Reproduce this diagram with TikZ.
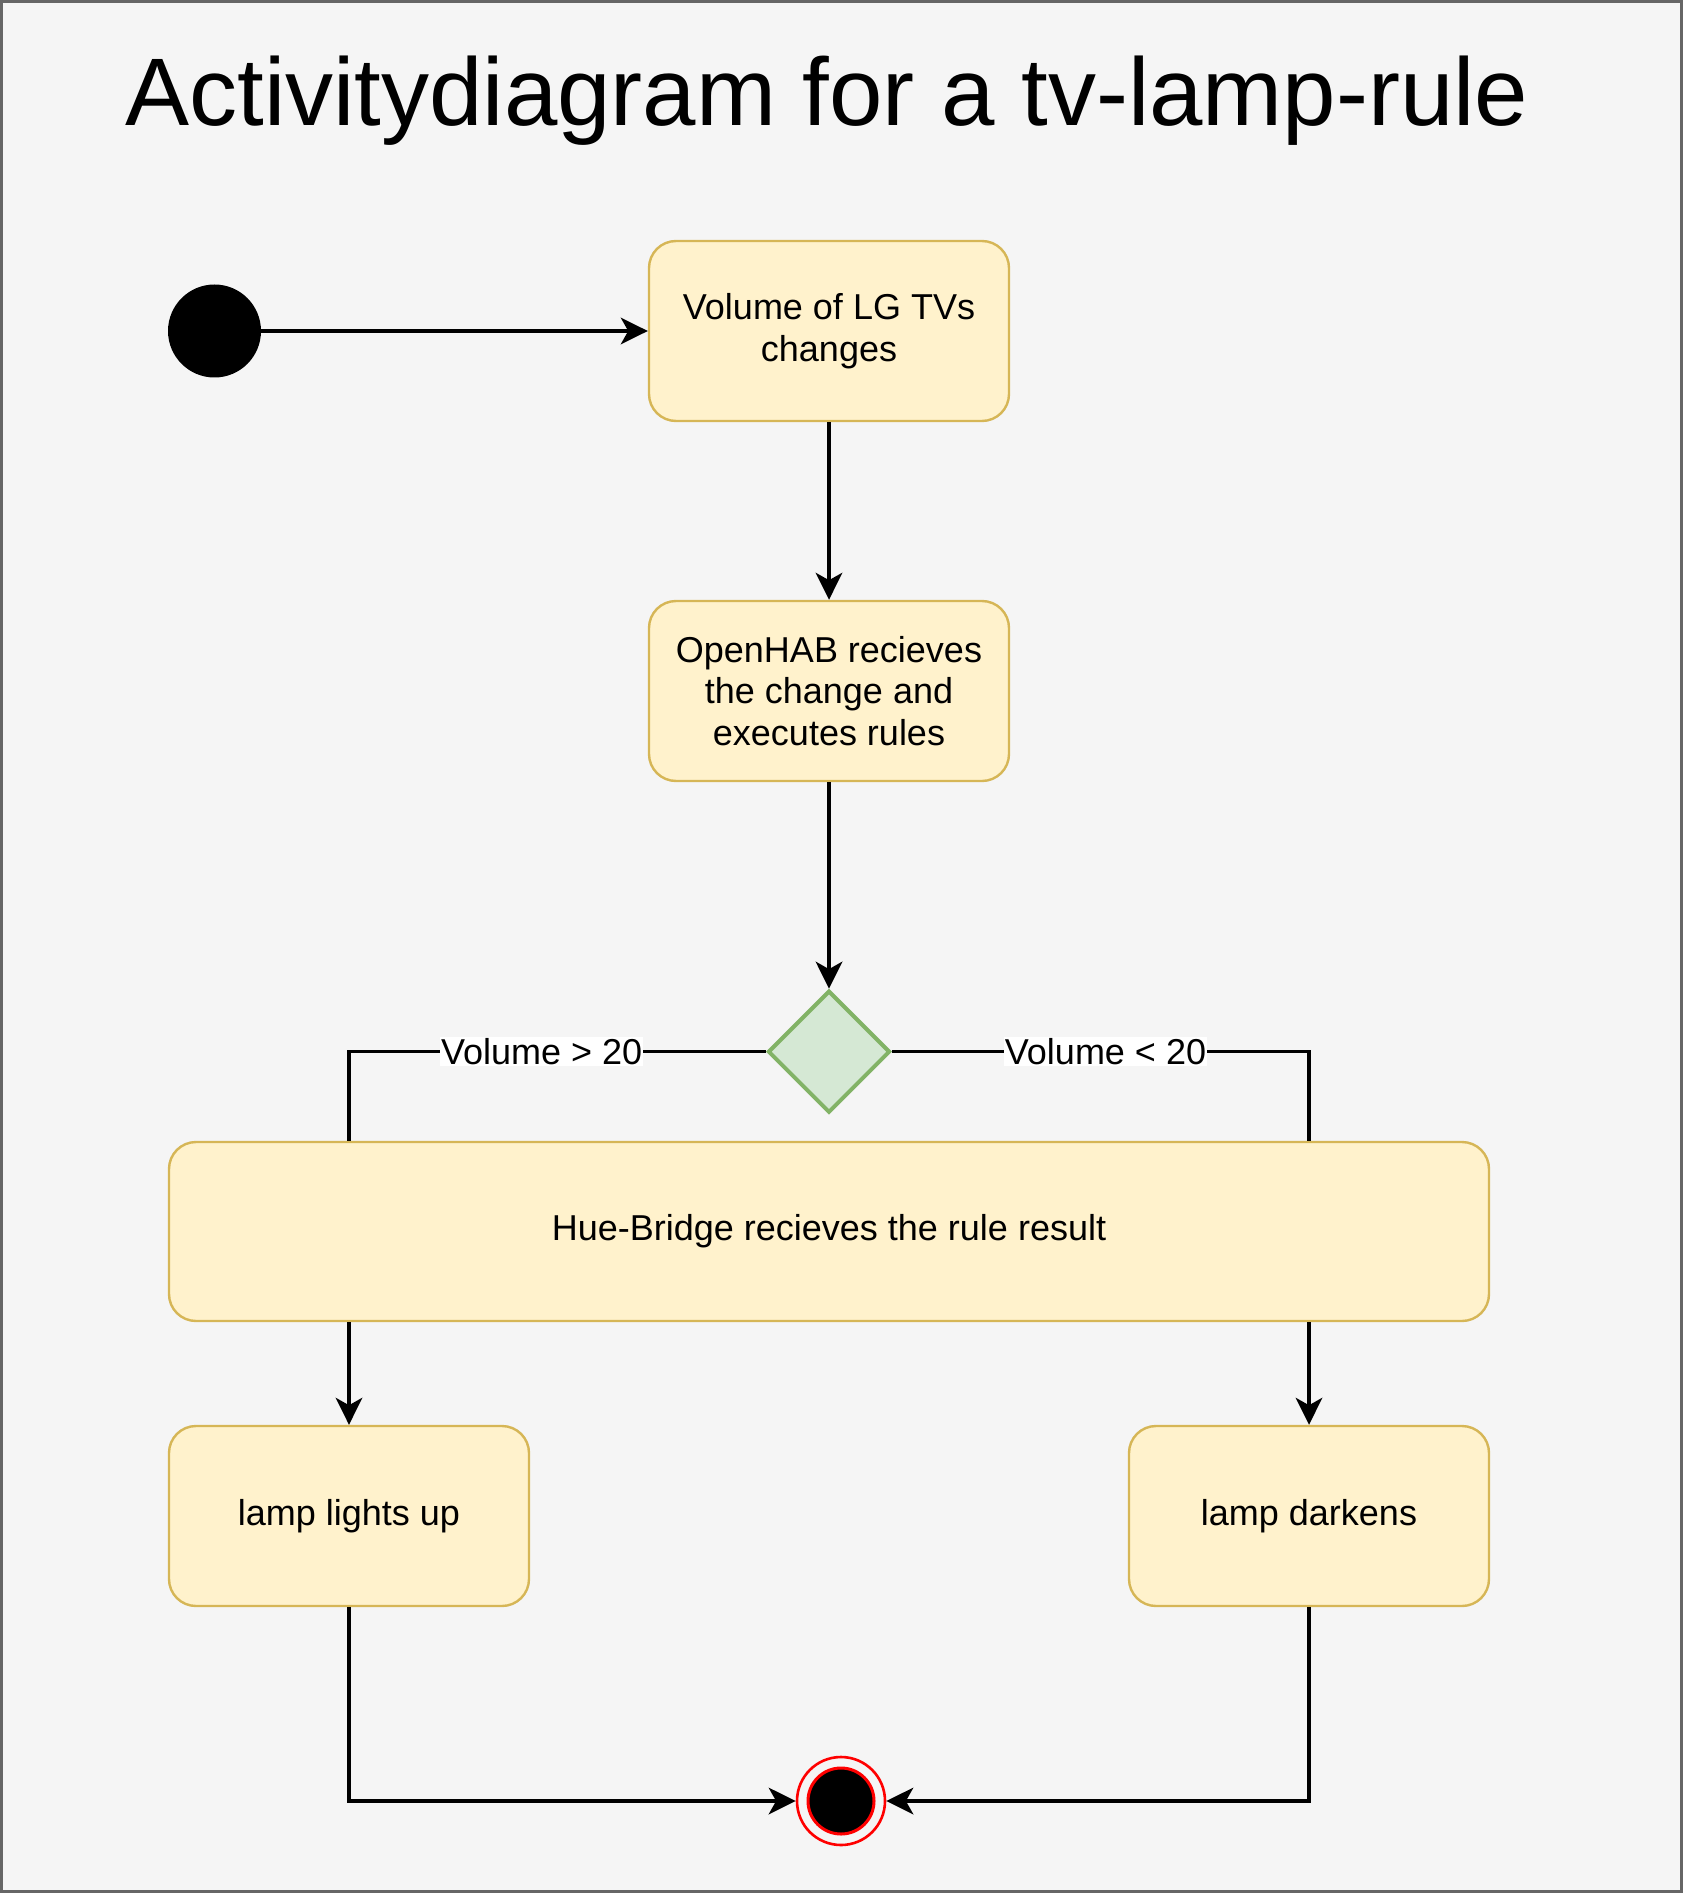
\documentclass[tikz,border=0pt]{standalone}
\usepackage{fontspec}
\setmainfont{Liberation Sans}
\usetikzlibrary{shapes.geometric,arrows.meta,calc}
\definecolor{bgc}{HTML}{F5F5F5}
\definecolor{framec}{HTML}{666666}
\definecolor{actfill}{HTML}{FFF2CC}
\definecolor{actdraw}{HTML}{D6B656}
\definecolor{decfill}{HTML}{D5E8D4}
\definecolor{decdraw}{HTML}{82B366}
\definecolor{endred}{HTML}{FF0000}
\begin{document}
\begin{tikzpicture}[x=0.5pt,y=-0.5pt,
  act/.style={draw=actdraw,fill=actfill,line width=1.2pt,rounded corners=13.5pt,
    minimum width=180pt,minimum height=90pt,align=center,inner sep=0pt,
    font=\fontsize{18}{20.8}\selectfont},
  dec/.style={diamond,draw=decdraw,fill=decfill,line width=2pt,
    minimum width=61pt,minimum height=61pt,inner sep=0pt},
  startnode/.style={circle,fill=black,minimum size=46.5pt,inner sep=0pt},
  endouter/.style={circle,draw=endred,fill=bgc,line width=1.3pt,minimum size=44pt,inner sep=0pt},
  endinner/.style={circle,draw=endred,fill=black,line width=1.5pt,minimum size=33pt,inner sep=0pt},
  conn/.style={line width=1.6pt},
  arr/.style={conn,-{Stealth[length=13.5pt,width=13.3pt,inset=3.7pt]}},
  lbl/.style={fill=white,inner sep=0.6pt,font=\fontsize{18}{22}\selectfont},
]
\path[use as bounding box] (0,0) rectangle (1683,1893);
\draw[fill=bgc,draw=framec,line width=1.5pt] (1.5,1.5) rectangle (1681.5,1891.5);

\node[anchor=base,font=\fontsize{48}{56}\selectfont] (title) at (827,126) {Activitydiagram for a tv-lamp-rule};

\node[startnode] (start) at (214.5,331) {};
\node[act] (b1) at (829,331) {Volume of LG TVs\\changes};
\node[act] (b2) at (829,691) {OpenHAB recieves\\the change and\\executes rules};
\node[dec] (dec) at (829,1051.7) {};
\node[act,minimum width=660pt,minimum height=89.5pt] (hue) at (829,1231.5) {Hue-Bridge recieves the rule result};
\node[act] (l1) at (349,1516) {lamp lights up};
\node[act] (l2) at (1309,1516) {lamp darkens};
\node[endouter] (endo) at (841,1801) {};
\node[endinner] (endi) at (841,1801) {};

\draw[arr] (start) -- (b1);
\draw[arr] (b1) -- (b2);
\draw[arr] (b2) -- (dec);
\draw[conn] (dec.west) -| node[lbl,pos=0.269] {Volume > 20} (hue.north -| l1);
\draw[conn] (dec.east) -| node[lbl,pos=0.256] {Volume < 20} (hue.north -| l2);
\draw[arr] (hue.south -| l1) -- (l1);
\draw[arr] (hue.south -| l2) -- (l2);
\draw[arr] (l1) |- (endo);
\draw[arr] (l2) |- (endo);
\end{tikzpicture}
\end{document}
